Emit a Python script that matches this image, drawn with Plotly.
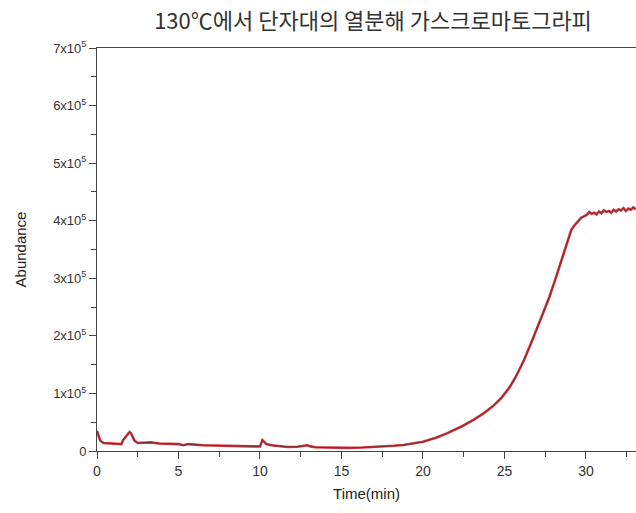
import plotly.graph_objects as go

# Data (time in minutes, abundance in units of 1e5)
time_min = [0, 0.1, 0.2, 0.4, 0.8, 1.2, 1.5, 1.6, 1.8, 2.0, 2.1, 2.3, 2.5, 3.0, 3.3, 3.8,
            4.5, 5.0, 5.3, 5.6, 6.5, 7.5, 8.5, 9.5, 10.0, 10.15, 10.25, 10.4, 10.7, 11.2,
            11.7, 12.3, 12.9, 13.1, 13.4, 14.0, 14.8, 15.5, 16.3, 16.8, 17.5, 18.2, 18.8,
            19.4, 20.0, 20.8, 21.5, 22.4, 23.1, 23.7, 24.3, 24.8, 25.3, 25.7, 26.2, 26.7,
            27.2, 27.75, 28.2, 28.6, 28.9, 29.1, 29.3, 29.5, 29.7, 29.9, 30.05, 30.2, 30.35,
            30.5, 30.65, 30.8, 30.95, 31.1, 31.25, 31.4, 31.55, 31.7, 31.85, 32.0, 32.15,
            32.3, 32.45, 32.6, 32.75, 32.9, 33.05]
abund_e5 = [0.35, 0.24, 0.18, 0.14, 0.13, 0.12, 0.12, 0.19, 0.26, 0.33, 0.30, 0.18, 0.14,
            0.14, 0.15, 0.13, 0.12, 0.12, 0.10, 0.12, 0.10, 0.09, 0.085, 0.08, 0.08, 0.19,
            0.16, 0.12, 0.10, 0.08, 0.07, 0.075, 0.10, 0.08, 0.065, 0.06, 0.055, 0.055,
            0.06, 0.065, 0.08, 0.09, 0.105, 0.13, 0.16, 0.23, 0.31, 0.43, 0.54, 0.65, 0.78,
            0.92, 1.10, 1.29, 1.58, 1.92, 2.27, 2.67, 3.05, 3.40, 3.68, 3.84, 3.92, 3.98,
            4.05, 4.08, 4.10, 4.15, 4.12, 4.14, 4.11, 4.16, 4.13, 4.18, 4.15, 4.17, 4.14,
            4.19, 4.16, 4.20, 4.18, 4.22, 4.17, 4.21, 4.19, 4.23, 4.20]

y_tick_vals = [0, 1, 2, 3, 4, 5, 6, 7]
y_tick_text = ["0", "1x10<sup>5</sup>", "2x10<sup>5</sup>", "3x10<sup>5</sup>",
               "4x10<sup>5</sup>", "5x10<sup>5</sup>", "6x10<sup>5</sup>", "7x10<sup>5</sup>"]
x_tick_vals = [0, 5, 10, 15, 20, 25, 30]

title_text = "130℃에서 단자대의 열분해 가스크로마토그라피"

y_vals = [v * 1e5 for v in abund_e5]
y_ticks = [v * 1e5 for v in y_tick_vals]

fig = go.Figure()
fig.add_trace(go.Scatter(x=time_min, y=y_vals, mode="lines",
                         line=dict(color="#d8373f", width=2.6),
                         hoverinfo="skip", showlegend=False))
fig.add_trace(go.Scatter(x=time_min, y=y_vals, mode="lines",
                         line=dict(color="#6a2a30", width=0.9),
                         showlegend=False))

sans = "Liberation Sans, Arial, sans-serif"

fig.update_layout(
    width=636, height=513,
    margin=dict(l=97, r=0, t=48, b=62),
    paper_bgcolor="white", plot_bgcolor="white",
    title=dict(text=title_text, x=(373 - 97) / 539, xref="paper", xanchor="center",
               y=0.958, yref="container", yanchor="middle",
               font=dict(family="Noto Sans CJK KR", size=22, color="#333333")),
    xaxis=dict(range=[0, 33.07], tickmode="array", tickvals=x_tick_vals,
               ticks="outside", ticklen=7, tickwidth=1, tickcolor="#444444",
               showline=True, linecolor="#444444", linewidth=1, mirror=True,
               showgrid=False, zeroline=False,
               tickfont=dict(family=sans, size=14, color="#333333"),
               minor=dict(dtick=2.5, tick0=0, ticks="outside", ticklen=5, tickcolor="#444444"),
               title=dict(text="Time(min)", standoff=10,
                          font=dict(family=sans, size=15, color="#222222"))),
    yaxis=dict(range=[0, 7e5], tickmode="array", tickvals=y_ticks, ticktext=y_tick_text,
               ticks="outside", ticklen=7, tickwidth=1, tickcolor="#444444",
               showline=True, linecolor="#444444", linewidth=1, mirror=False,
               showgrid=False, zeroline=False,
               tickfont=dict(family=sans, size=13, color="#333333"),
               minor=dict(dtick=0.5e5, tick0=0, ticks="outside", ticklen=5, tickcolor="#444444"),
               title=dict(text="Abundance", standoff=22,
                          font=dict(family=sans, size=15, color="#222222"))),
)

fig.write_html("out.html")
